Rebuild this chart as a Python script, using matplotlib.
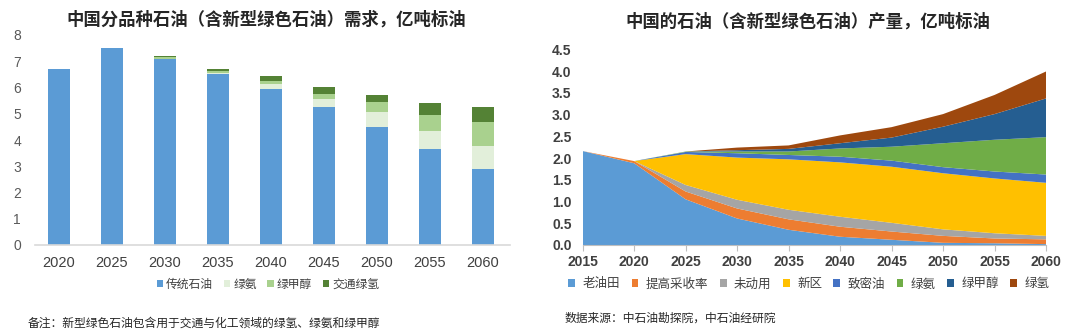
import matplotlib
matplotlib.use("Agg")
import matplotlib.pyplot as plt
import numpy as np
from matplotlib.patches import Patch

plt.rcParams['font.family'] = ['Noto Sans CJK SC', 'DejaVu Sans']

# ---- Left chart data: demand ----
demand_years = ['2020', '2025', '2030', '2035', '2040', '2045', '2050', '2055', '2060']
trad_oil = [6.70, 7.52, 7.07, 6.50, 5.95, 5.26, 4.51, 3.66, 2.91]
green_ammonia_d = [0.00, 0.00, 0.03, 0.06, 0.17, 0.32, 0.54, 0.70, 0.86]
green_methanol_d = [0.00, 0.00, 0.06, 0.08, 0.13, 0.19, 0.38, 0.60, 0.90]
transport_h2 = [0.00, 0.00, 0.04, 0.08, 0.19, 0.26, 0.29, 0.44, 0.60]
demand_labels = ['传统石油', '绿氨', '绿甲醇', '交通绿氢']
demand_colors = ['#5b9bd5', '#e2efda', '#a9d18e', '#548235']

# ---- Right chart data: production ----
prod_years = [2015, 2020, 2025, 2030, 2035, 2040, 2045, 2050, 2055, 2060]
old_fields = [2.16, 1.88, 1.05, 0.61, 0.35, 0.19, 0.12, 0.05, 0.04, 0.02]
eor = [0.00, 0.05, 0.18, 0.23, 0.24, 0.23, 0.19, 0.16, 0.11, 0.11]
undeveloped = [0.00, 0.00, 0.15, 0.20, 0.22, 0.23, 0.20, 0.15, 0.12, 0.08]
new_areas = [0.00, 0.00, 0.71, 0.97, 1.16, 1.25, 1.29, 1.29, 1.26, 1.22]
tight_oil = [0.00, 0.00, 0.05, 0.10, 0.10, 0.13, 0.14, 0.14, 0.16, 0.19]
green_ammonia_p = [0.00, 0.00, 0.01, 0.04, 0.08, 0.19, 0.32, 0.55, 0.73, 0.86]
green_methanol_p = [0.00, 0.00, 0.00, 0.03, 0.06, 0.12, 0.21, 0.38, 0.59, 0.89]
green_h2_p = [0.00, 0.00, 0.00, 0.06, 0.08, 0.18, 0.24, 0.29, 0.44, 0.62]
prod_labels = ['老油田', '提高采收率', '未动用', '新区', '致密油', '绿氨', '绿甲醇', '绿氢']
prod_colors = ['#5b9bd5', '#ed7d31', '#a5a5a5', '#ffc000', '#4472c4', '#70ad47', '#255e91', '#9e480e']

W, H = 1080, 331
fig = plt.figure(figsize=(W / 100, H / 100), dpi=100)

def ax_rect(x0, x1, ytop, ybot):
    return [x0 / W, 1 - ybot / H, (x1 - x0) / W, (ybot - ytop) / H]

# ---------------- Left ----------------
ax1 = fig.add_axes(ax_rect(35, 510, 35, 245))
x = np.arange(len(demand_years))
series = [trad_oil, green_ammonia_d, green_methanol_d, transport_h2]
bottom = np.zeros(len(x))
for vals, col, lab in zip(series, demand_colors, demand_labels):
    ax1.bar(x, vals, width=0.4, bottom=bottom, color=col, label=lab, zorder=2)
    bottom += np.array(vals)
ax1.set_xlim(-0.453, 8.51)
ax1.set_ylim(0, 8)
ax1.set_yticks(range(0, 9))
ax1.set_xticks(x)
ax1.set_xticklabels(demand_years)
for s in ['top', 'right', 'left']:
    ax1.spines[s].set_visible(False)
ax1.spines['bottom'].set_color('#d9d9d9')
ax1.spines['bottom'].set_linewidth(1.2)
ax1.tick_params(axis='both', length=0)
ax1.tick_params(axis='y', labelsize=10, labelcolor='#595959', pad=10)
ax1.tick_params(axis='x', labelsize=10.5, labelcolor='#404040', pad=8)
for t in ax1.get_yticklabels() + ax1.get_xticklabels():
    t.set_family(['Liberation Sans', 'DejaVu Sans'])
fig.text(266 / W, 1 - 20 / H, '中国分品种石油（含新型绿色石油）需求，亿吨标油',
         ha='center', va='center', fontsize=12.5, fontweight='bold', color='#262626')
handles1 = [Patch(facecolor=c, label=l) for c, l in zip(demand_colors, demand_labels)]
fig.legend(handles=handles1, loc='center', bbox_to_anchor=(268 / W, 1 - 284 / H), ncol=4,
           frameon=False, fontsize=8.5, handlelength=0.55, handleheight=0.55,
           handletextpad=0.25, columnspacing=0.9, labelcolor='#404040')
fig.text(28 / W, 1 - 323 / H, '备注：新型绿色石油包含用于交通与化工领域的绿氢、绿氨和绿甲醇',
         ha='left', va='center', fontsize=8.5, color='#262626')

# ---------------- Right ----------------
ax2 = fig.add_axes(ax_rect(582.7, 1046, 49.3, 245))
stack = [old_fields, eor, undeveloped, new_areas, tight_oil, green_ammonia_p, green_methanol_p, green_h2_p]
ax2.stackplot(prod_years, *stack, colors=prod_colors, labels=prod_labels,
              edgecolor='none', linewidth=0)
ax2.set_xlim(2015, 2060)
ax2.set_ylim(0, 4.5)
ax2.set_xticks(prod_years)
ax2.set_yticks(np.arange(0, 4.51, 0.5))
ax2.set_yticklabels([f'{v:.1f}' for v in np.arange(0, 4.51, 0.5)])
for s in ['top', 'right', 'left']:
    ax2.spines[s].set_visible(False)
ax2.spines['bottom'].set_color('#bfbfbf')
ax2.tick_params(axis='y', length=0, labelsize=10, labelcolor='#404040', pad=8)
ax2.tick_params(axis='x', length=4, color='#bfbfbf', direction='out',
                labelsize=10, labelcolor='#404040', pad=3)
for t in ax2.get_yticklabels() + ax2.get_xticklabels():
    t.set_family(['Liberation Sans', 'DejaVu Sans'])
    t.set_fontweight('bold')
fig.text(808 / W, 1 - 22 / H, '中国的石油（含新型绿色石油）产量，亿吨标油',
         ha='center', va='center', fontsize=12.5, fontweight='bold', color='#262626')
handles2 = [Patch(facecolor=c, label=l) for c, l in zip(prod_colors, prod_labels)]
fig.legend(handles=handles2, loc='center', bbox_to_anchor=(809 / W, 1 - 284 / H), ncol=8,
           frameon=False, fontsize=9, handlelength=0.55, handleheight=0.55,
           handletextpad=0.6, columnspacing=0.9, labelcolor='#404040')
fig.text(565 / W, 1 - 318 / H, '数据来源：中石油勘探院，中石油经研院',
         ha='left', va='center', fontsize=8.5, color='#262626')

fig.savefig('out.png', dpi=100)
